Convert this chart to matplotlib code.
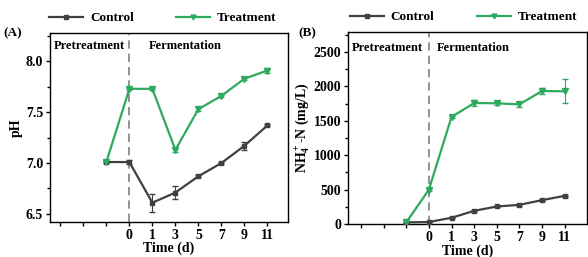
import matplotlib
matplotlib.use('Agg')
import matplotlib.pyplot as plt
from matplotlib.ticker import MultipleLocator
from matplotlib.lines import Line2D

plt.rcParams['font.family'] = 'Liberation Serif'
plt.rcParams['font.weight'] = 'bold'
plt.rcParams['mathtext.fontset'] = 'custom'
plt.rcParams['mathtext.rm'] = 'Liberation Serif:bold'
plt.rcParams['mathtext.bf'] = 'Liberation Serif:bold'
plt.rcParams['mathtext.it'] = 'Liberation Serif:bold'

# --- dados ---
dias = ['pre', '0', '1', '3', '5', '7', '9', '11']
posicoes = [-1, 0, 1, 2, 3, 4, 5, 6]

ph_controle = [7.01, 7.01, 6.61, 6.71, 6.87, 7.00, 7.17, 7.37]
ph_controle_err = [0.01, 0.02, 0.09, 0.06, 0.01, 0.01, 0.04, 0.01]
ph_tratamento = [7.01, 7.73, 7.73, 7.13, 7.53, 7.66, 7.83, 7.91]
ph_tratamento_err = [0.01, 0.01, 0.01, 0.02, 0.02, 0.01, 0.01, 0.02]

nh4_controle = [25, 30, 92, 193, 256, 280, 348, 411]
nh4_controle_err = [5, 5, 8, 10, 10, 10, 12, 12]
nh4_tratamento = [25, 500, 1557, 1760, 1755, 1740, 1934, 1930]
nh4_tratamento_err = [10, 15, 20, 50, 25, 40, 40, 176]

ticks_x = [-3, -2, -1, 0, 1, 2, 3, 4, 5, 6]
labels_x = ['', '', '', '0', '1', '3', '5', '7', '9', '11']

cinza = '#404040'
verde = '#2eaa5e'

fig = plt.figure(figsize=(5.88, 2.57), dpi=100)
axA = fig.add_axes([0.085, 0.136, 0.405, 0.736])
axB = fig.add_axes([0.592, 0.128, 0.406, 0.747])


def desenhar(ax, ctrl, ctrl_err, trat, trat_err, x_leg):
    ax.errorbar(posicoes, ctrl, yerr=ctrl_err, color=cinza, marker='s', ms=3.5,
                lw=1.6, capsize=2, elinewidth=0.8, zorder=3)
    ax.errorbar(posicoes, trat, yerr=trat_err, color=verde, marker='v', ms=4,
                lw=1.6, capsize=2, elinewidth=0.8, zorder=3)
    ax.axvline(0, color='#808080', ls=(0, (5, 3)), lw=1.2, zorder=1)
    ax.set_xticks(ticks_x)
    ax.set_xticklabels(labels_x)
    ax.tick_params(labelsize=10, width=1, length=3, direction='out', pad=2)
    ax.tick_params(which='minor', width=1, length=2)
    for s in ax.spines.values():
        s.set_linewidth(1.0)
    ax.set_xlabel('Time (d)', fontsize=10, fontweight='bold', labelpad=0)
    handles = [Line2D([], [], color=cinza, marker='s', ms=3, lw=1.6),
               Line2D([], [], color=verde, marker='v', ms=3.5, lw=1.6)]
    ax.legend(handles, ['Control', 'Treatment'], loc='lower left',
              bbox_to_anchor=(x_leg, 1.025), ncol=2, frameon=False,
              fontsize=9.5, handlelength=2.6, columnspacing=3.2, borderaxespad=0.1,
              handletextpad=0.5, borderpad=0.2)


desenhar(axA, ph_controle, ph_controle_err, ph_tratamento, ph_tratamento_err, -0.02)
axA.set_xlim(-3.45, 6.9)
axA.set_ylim(6.42, 8.28)
axA.set_yticks([6.5, 7.0, 7.5, 8.0])
axA.yaxis.set_minor_locator(MultipleLocator(0.25))
axA.set_ylabel('pH', fontsize=10, fontweight='bold', labelpad=2)
axA.text(0.015, 0.965, 'Pretreatment', transform=axA.transAxes, fontsize=9,
         fontweight='bold', va='top', ha='left')
axA.text(0.57, 0.965, 'Fermentation', transform=axA.transAxes, fontsize=9,
         fontweight='bold', va='top', ha='center')
fig.text(0.005, 0.86, '(A)', fontsize=9.5, fontweight='bold')

desenhar(axB, nh4_controle, nh4_controle_err, nh4_tratamento, nh4_tratamento_err, -0.01)
axB.set_xlim(-3.57, 6.98)
axB.set_ylim(0, 2790)
axB.set_yticks([0, 500, 1000, 1500, 2000, 2500])
axB.yaxis.set_minor_locator(MultipleLocator(250))
axB.set_ylabel(r'NH$_4^+$-N (mg/L)', fontsize=10, fontweight='bold', labelpad=1)
axB.text(0.015, 0.95, 'Pretreatment', transform=axB.transAxes, fontsize=9,
         fontweight='bold', va='top', ha='left')
axB.text(0.525, 0.95, 'Fermentation', transform=axB.transAxes, fontsize=9,
         fontweight='bold', va='top', ha='center')
fig.text(0.508, 0.86, '(B)', fontsize=9.5, fontweight='bold')

plt.savefig('out.png', dpi=100)
plt.close()
